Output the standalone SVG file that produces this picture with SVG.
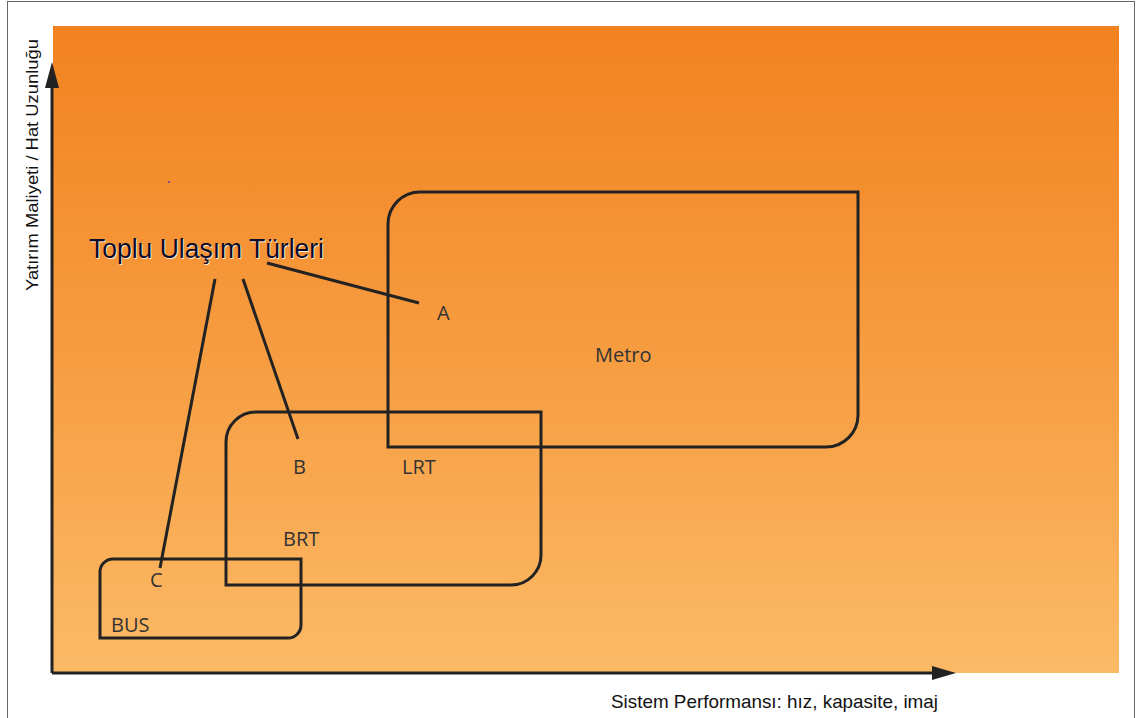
<svg xmlns="http://www.w3.org/2000/svg" width="1137" height="718" viewBox="0 0 1137 718">
<defs>
<linearGradient id="bg" x1="0" y1="0" x2="0" y2="1">
<stop offset="0" stop-color="#F28220"/>
<stop offset="0.5" stop-color="#F69C40"/>
<stop offset="1" stop-color="#FCBA66"/>
</linearGradient>
</defs>
<style>
.box{fill:none;stroke:#222;stroke-width:3}
.axis{fill:none;stroke:#222;stroke-width:3}
.conn{fill:none;stroke:#222;stroke-width:3}
.lbl{font-family:"Open Sans","Noto Sans",sans-serif;fill:#333;font-size:20px}
.ax{font-family:"Liberation Sans",Arial,sans-serif;fill:#111}
</style>
<rect x="0" y="0" width="1137" height="718" fill="#fff"/>
<rect x="7.5" y="1.5" width="1127" height="718" fill="none" stroke="#666" stroke-width="1"/>
<rect x="53" y="26" width="1066" height="647" fill="url(#bg)"/>
<circle cx="169" cy="182" r="1" fill="#5a3ca0"/>

<g id="axes">
<path class="axis" d="M52,673 V84"/>
<polygon points="52,62 45,88 59,88" fill="#222"/>
<path class="axis" d="M52,673 H935"/>
<polygon points="956,673 932,666 932,680" fill="#222"/>
<text class="ax" font-size="19" x="611" y="708" textLength="327" lengthAdjust="spacingAndGlyphs">Sistem Performansı: hız, kapasite, imaj</text>
<text class="ax" font-size="17" transform="translate(38,291) rotate(-90)" textLength="252" lengthAdjust="spacingAndGlyphs">Yatırım Maliyeti / Hat Uzunluğu</text>
</g>

<g id="node-metro">
<path class="box" d="M388,447 V224 A32,32 0 0 1 420,192 H858 V415 A32,32 0 0 1 826,447 Z"/>
<text class="lbl" x="595" y="362">Metro</text>
</g>

<g id="node-brt">
<path class="box" d="M226,585 V442 A30,30 0 0 1 256,412 H541 V555 A30,30 0 0 1 511,585 Z"/>
<text class="lbl" x="283" y="546">BRT</text>
</g>

<g id="node-bus">
<path class="box" d="M100,638 V572 A13,13 0 0 1 113,559 H301 V625 A13,13 0 0 1 288,638 Z"/>
<text class="lbl" x="111" y="632" font-size="17">BUS</text>
</g>

<g id="label-lrt">
<text class="lbl" x="402" y="474">LRT</text>
</g>

<g id="node-title">
<text x="90" y="259" font-family="'Liberation Sans',Arial,sans-serif" font-size="27" fill="#fff" opacity="0.8" textLength="235" lengthAdjust="spacingAndGlyphs">Toplu Ulaşım Türleri</text>
<text x="89" y="258" font-family="'Liberation Sans',Arial,sans-serif" font-size="27" fill="#0b0b26" textLength="235" lengthAdjust="spacingAndGlyphs">Toplu Ulaşım Türleri</text>
</g>

<g id="connectors">
<line class="conn" x1="267" y1="263" x2="419" y2="303"/>
<line class="conn" x1="243" y1="279" x2="298" y2="439"/>
<line class="conn" x1="215" y1="279" x2="160" y2="568"/>
</g>

<g id="labels">
<text class="lbl" x="437" y="320">A</text>
<text class="lbl" x="293" y="474">B</text>
<text class="lbl" x="150" y="587">C</text>
</g>
</svg>
